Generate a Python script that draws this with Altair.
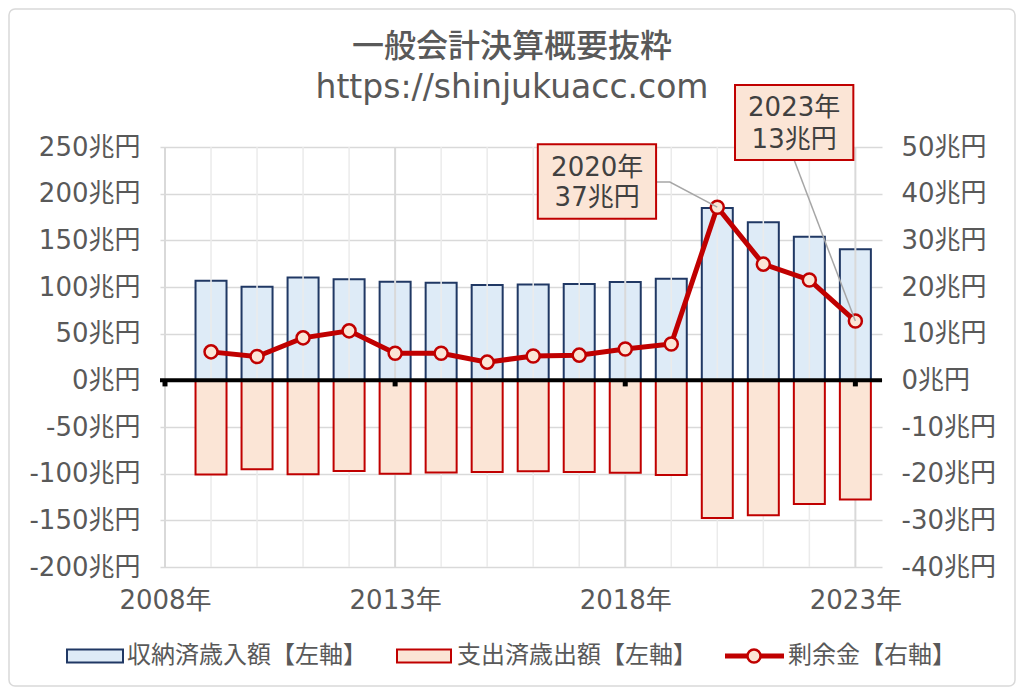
import altair as alt
import pandas as pd

# ---------------- data ----------------
years = list(range(2009, 2024))
revenue = [106.7, 100.3, 110.3, 108.2, 105.6, 104.6, 102.1, 102.7, 103.2, 105.3, 108.9, 184.6, 169.3, 153.9, 140.4]
expenditure = [101.0, 95.3, 100.7, 97.1, 100.2, 98.8, 98.2, 97.5, 98.1, 98.9, 101.4, 147.6, 144.6, 132.4, 127.6]
surplus = [6.1, 5.1, 9.1, 10.6, 5.8, 5.8, 3.9, 5.2, 5.4, 6.7, 7.8, 37.1, 24.9, 21.5, 12.7]

major_years = [2008, 2013, 2018, 2023]
minor_years = [y for y in range(2009, 2023) if y not in major_years]
left_ticks = list(range(-200, 251, 50))
right_ticks = list(range(-40, 51, 10))

title_text = "一般会計決算概要抜粋"
subtitle_text = "https://shinjukuacc.com"
legend_labels = ["収納済歳入額【左軸】", "支出済歳出額【左軸】", "剰余金【右軸】"]
annotated_years = [2020, 2023]
annotation_labels = ["37兆円", "13兆円"]

# ---------------- styles ----------------
AX_FONT = "DejaVu Sans, Noto Sans CJK JP"
JP_FONT = "Noto Sans CJK JP"
GRAY = "#595959"
BLUE_FILL, BLUE_STROKE = "#deebf7", "#203864"
RED_FILL, RED_STROKE = "#fbe5d6", "#c00000"

df = pd.DataFrame({"year": years, "revenue": revenue,
                   "exp": [-v for v in expenditure], "surplus": surplus})

XS = alt.Scale(domain=[2008, 2023.47], nice=False, zero=False)
YL = alt.Scale(domain=[-200, 250], nice=False, zero=False)
YR = alt.Scale(domain=[-40, 50], nice=False, zero=False)

x_axis = alt.Axis(values=major_years, labelExpr="datum.value + '年'", grid=False, domain=False,
                  ticks=False, labelFontSize=26, labelFont=AX_FONT, labelColor=GRAY,
                  labelPadding=20, labelFlush=False, labelOverlap=False, title=None)
yl_axis = alt.Axis(values=left_ticks, labelExpr="datum.value + '兆円'", grid=True,
                   gridColor="#d9d9d9", gridWidth=1.5, domain=False, ticks=False,
                   labelFontSize=26, labelFont=AX_FONT, labelColor=GRAY, labelPadding=20,
                   labelOverlap=False, title=None, orient="left")
yr_axis = alt.Axis(values=right_ticks, labelExpr="datum.value + '兆円'", grid=False,
                   domain=False, ticks=False, labelFontSize=26, labelFont=AX_FONT,
                   labelColor=GRAY, labelPadding=19, labelOverlap=False,
                   title=None, orient="right")


def X(field):
    return alt.X(field, scale=XS, axis=x_axis)


def YLf(field):
    return alt.Y(field, scale=YL, axis=yl_axis)


def YRf(field):
    return alt.Y(field, scale=YR, axis=yr_axis)


# ---------------- left-axis layer ----------------
rev_bars = alt.Chart(df).mark_bar(size=31, fill=BLUE_FILL, stroke=BLUE_STROKE, strokeWidth=2).encode(
    x=X("year:Q"), y=YLf("revenue:Q"))
exp_bars = alt.Chart(df).mark_bar(size=31, fill=RED_FILL, stroke=RED_STROKE, strokeWidth=2).encode(
    x=X("year:Q"), y=YLf("exp:Q"))
grid_minor = alt.Chart(pd.DataFrame({"year": minor_years})).mark_rule(
    color="#ebebeb", strokeWidth=1.5).encode(x=X("year:Q"))
grid_major = alt.Chart(pd.DataFrame({"year": major_years})).mark_rule(
    color="#d9d9d9", strokeWidth=2).encode(x=X("year:Q"))

zero_line = alt.Chart(pd.DataFrame({"v": [0]})).mark_rule(color="black", strokeWidth=4).encode(
    y=YLf("v:Q"))
tick_df = pd.DataFrame({"year": major_years, "y0": [0] * 4, "y1": [-6.5] * 4})
tick_marks = alt.Chart(tick_df).mark_rule(color="black", strokeWidth=5).encode(
    x=X("year:Q"), y=YLf("y0:Q"), y2="y1:Q")

# ---------------- decorations: border, titles, legend ----------------
one = pd.DataFrame({"a": [0]})
border = alt.Chart(one).mark_rect(filled=False, stroke="#d9d9d9", strokeWidth=1.5, cornerRadius=6).encode(
    x=alt.value(-151), x2=alt.value(855), y=alt.value(-138), y2=alt.value(539))
title = alt.Chart(pd.DataFrame({"t": [title_text]})).mark_text(
    fontSize=32, font=JP_FONT, fontWeight=500, color=GRAY, baseline="middle", align="center").encode(
    x=alt.value(352), y=alt.value(-100), text="t:N")
subtitle = alt.Chart(pd.DataFrame({"t": [subtitle_text]})).mark_text(
    fontSize=33, font="DejaVu Sans", color=GRAY, baseline="alphabetic", align="center").encode(
    x=alt.value(352), y=alt.value(-49), text="t:N")

LY = 509
sw1 = alt.Chart(one).mark_rect(fill=BLUE_FILL, stroke=BLUE_STROKE, strokeWidth=2).encode(
    x=alt.value(-93), x2=alt.value(-37), y=alt.value(LY - 6.5), y2=alt.value(LY + 6.5))
sw2 = alt.Chart(one).mark_rect(fill=RED_FILL, stroke=RED_STROKE, strokeWidth=2).encode(
    x=alt.value(237), x2=alt.value(291), y=alt.value(LY - 6.5), y2=alt.value(LY + 6.5))
sw3_line = alt.Chart(one).mark_rule(color=RED_STROKE, strokeWidth=5).encode(
    x=alt.value(565), x2=alt.value(624), y=alt.value(LY))
sw3_pt = alt.Chart(one).mark_circle(size=170, fill=RED_FILL, stroke=RED_STROKE,
                                    strokeWidth=2.5, opacity=1).encode(
    x=alt.value(594), y=alt.value(LY))


def leg_text(i, xpos):
    return alt.Chart(pd.DataFrame({"t": [legend_labels[i]]})).mark_text(
        fontSize=24, font=JP_FONT, color=GRAY, align="left", baseline="middle").encode(
        x=alt.value(xpos), y=alt.value(LY), text="t:N")


left_layer = alt.layer(rev_bars, grid_minor, grid_major, exp_bars, zero_line, tick_marks,
                       border, title, subtitle, sw1, sw2, sw3_line, sw3_pt,
                       leg_text(0, -33), leg_text(1, 297), leg_text(2, 628))

# ---------------- right-axis layer ----------------
line = alt.Chart(df).mark_line(color=RED_STROKE, strokeWidth=5).encode(
    x=X("year:Q"), y=YRf("surplus:Q"))
points = alt.Chart(df).mark_circle(size=170, fill=RED_FILL, stroke=RED_STROKE,
                                   strokeWidth=2.5, opacity=1).encode(
    x=X("year:Q"), y=YRf("surplus:Q"))

# annotation layout (data units)
ann_boxes = pd.DataFrame({
    "x1": [2016.10, 2020.385], "x2": [2018.67, 2022.956],
    "y1": [34.6, 47.2], "y2": [50.6, 63.3]})
leader = pd.DataFrame({
    "g": ["a", "a", "a", "b", "b"], "o": [0, 1, 2, 0, 1],
    "x": [2018.67, 2018.97, 2020.0, 2021.67, 2023.0],
    "y": [42.5, 42.5, 37.1, 47.2, 12.7]})
ann_text = pd.DataFrame({
    "x": [2017.39, 2017.39, 2021.67, 2021.67],
    "y": [45.6, 39.0, 58.3, 51.6],
    "t": [f"{annotated_years[0]}年", annotation_labels[0],
          f"{annotated_years[1]}年", annotation_labels[1]]})

leader_lines = alt.Chart(leader).mark_line(color="#a6a6a6", strokeWidth=1.5).encode(
    x=X("x:Q"), y=YRf("y:Q"), detail="g:N", order="o:Q")
boxes = alt.Chart(ann_boxes).mark_rect(fill=RED_FILL, stroke=RED_STROKE, strokeWidth=2).encode(
    x=X("x1:Q"), x2="x2:Q", y=YRf("y1:Q"), y2="y2:Q")
box_text = alt.Chart(ann_text).mark_text(fontSize=26, font=AX_FONT, color="#404040",
                                         baseline="middle", align="center").encode(
    x=X("x:Q"), y=YRf("y:Q"), text="t:N")

right_layer = alt.layer(line, points, leader_lines, boxes, box_text)

chart = alt.layer(left_layer, right_layer).resolve_scale(y="independent").properties(
    width=722, height=420,
    autosize=alt.AutoSizeParams(type="none"),
    padding={"left": 152, "top": 139, "right": 134, "bottom": 120},
    background="white",
).configure_view(stroke=None)

chart.save("out.html", embed_options={"renderer": "svg", "actions": False})
